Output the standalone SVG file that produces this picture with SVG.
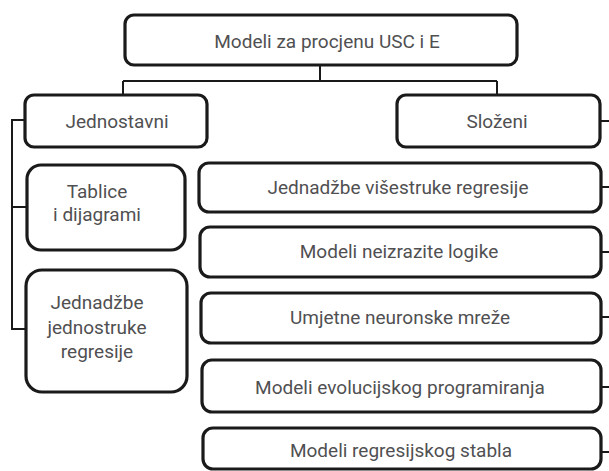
<svg xmlns="http://www.w3.org/2000/svg" width="609" height="471" viewBox="0 0 609 471">
<style>
.box{fill:#fff;stroke:#1a1a1a;stroke-width:3.2}
.lbl{font-family:Roboto,"Open Sans",sans-serif;font-size:19px;fill:#505052;text-anchor:middle;dominant-baseline:central}
.con{stroke:#1a1a1a;stroke-width:2;fill:none}
</style>
<rect width="609" height="471" fill="#fff"/>
<g id="connectors">
<path class="con" d="M320 65V81M123 81H497M123 81V95M497 81V95"/>
<path class="con" d="M25 120H12V329H26M12 207H27"/>
<path class="con" d="M600 121H609M601 187H609M601 252H609M601 317H609M601 387H609M601 452H609"/>
</g>
<g id="root"><rect class="box" x="125" y="15" width="392" height="50" rx="9"/><text class="lbl" x="327" y="41">Modeli za procjenu USC i E</text></g>
<g id="jednostavni"><rect class="box" x="25" y="95" width="182" height="52" rx="9"/><text class="lbl" x="117" y="121">Jednostavni</text></g>
<g id="slozeni"><rect class="box" x="397" y="95" width="203" height="52" rx="9"/><text class="lbl" x="497" y="121">Složeni</text></g>
<g id="tablice"><rect class="box" x="27" y="165" width="158" height="85" rx="14"/><text class="lbl" x="97" y="191">Tablice</text><text class="lbl" x="97" y="214">i dijagrami</text></g>
<g id="jednostruke"><rect class="box" x="26" y="270" width="161" height="122" rx="16"/><text class="lbl" x="97" y="302">Jednadžbe</text><text class="lbl" x="97" y="327">jednostruke</text><text class="lbl" x="97" y="351">regresije</text></g>
<g id="visestruke"><rect class="box" x="199" y="163" width="402" height="49" rx="10"/><text class="lbl" x="398" y="187">Jednadžbe višestruke regresije</text></g>
<g id="neizrazite"><rect class="box" x="200" y="227" width="401" height="50" rx="10"/><text class="lbl" x="399" y="251">Modeli neizrazite logike</text></g>
<g id="neuronske"><rect class="box" x="201" y="293" width="400" height="50" rx="10"/><text class="lbl" x="400" y="317">Umjetne neuronske mreže</text></g>
<g id="evolucijsko"><rect class="box" x="202" y="360" width="399" height="52" rx="10"/><text class="lbl" x="400" y="387">Modeli evolucijskog programiranja</text></g>
<g id="stablo"><rect class="box" x="203" y="428" width="398" height="41" rx="10"/><text class="lbl" x="401" y="450">Modeli regresijskog stabla</text></g>
</svg>
